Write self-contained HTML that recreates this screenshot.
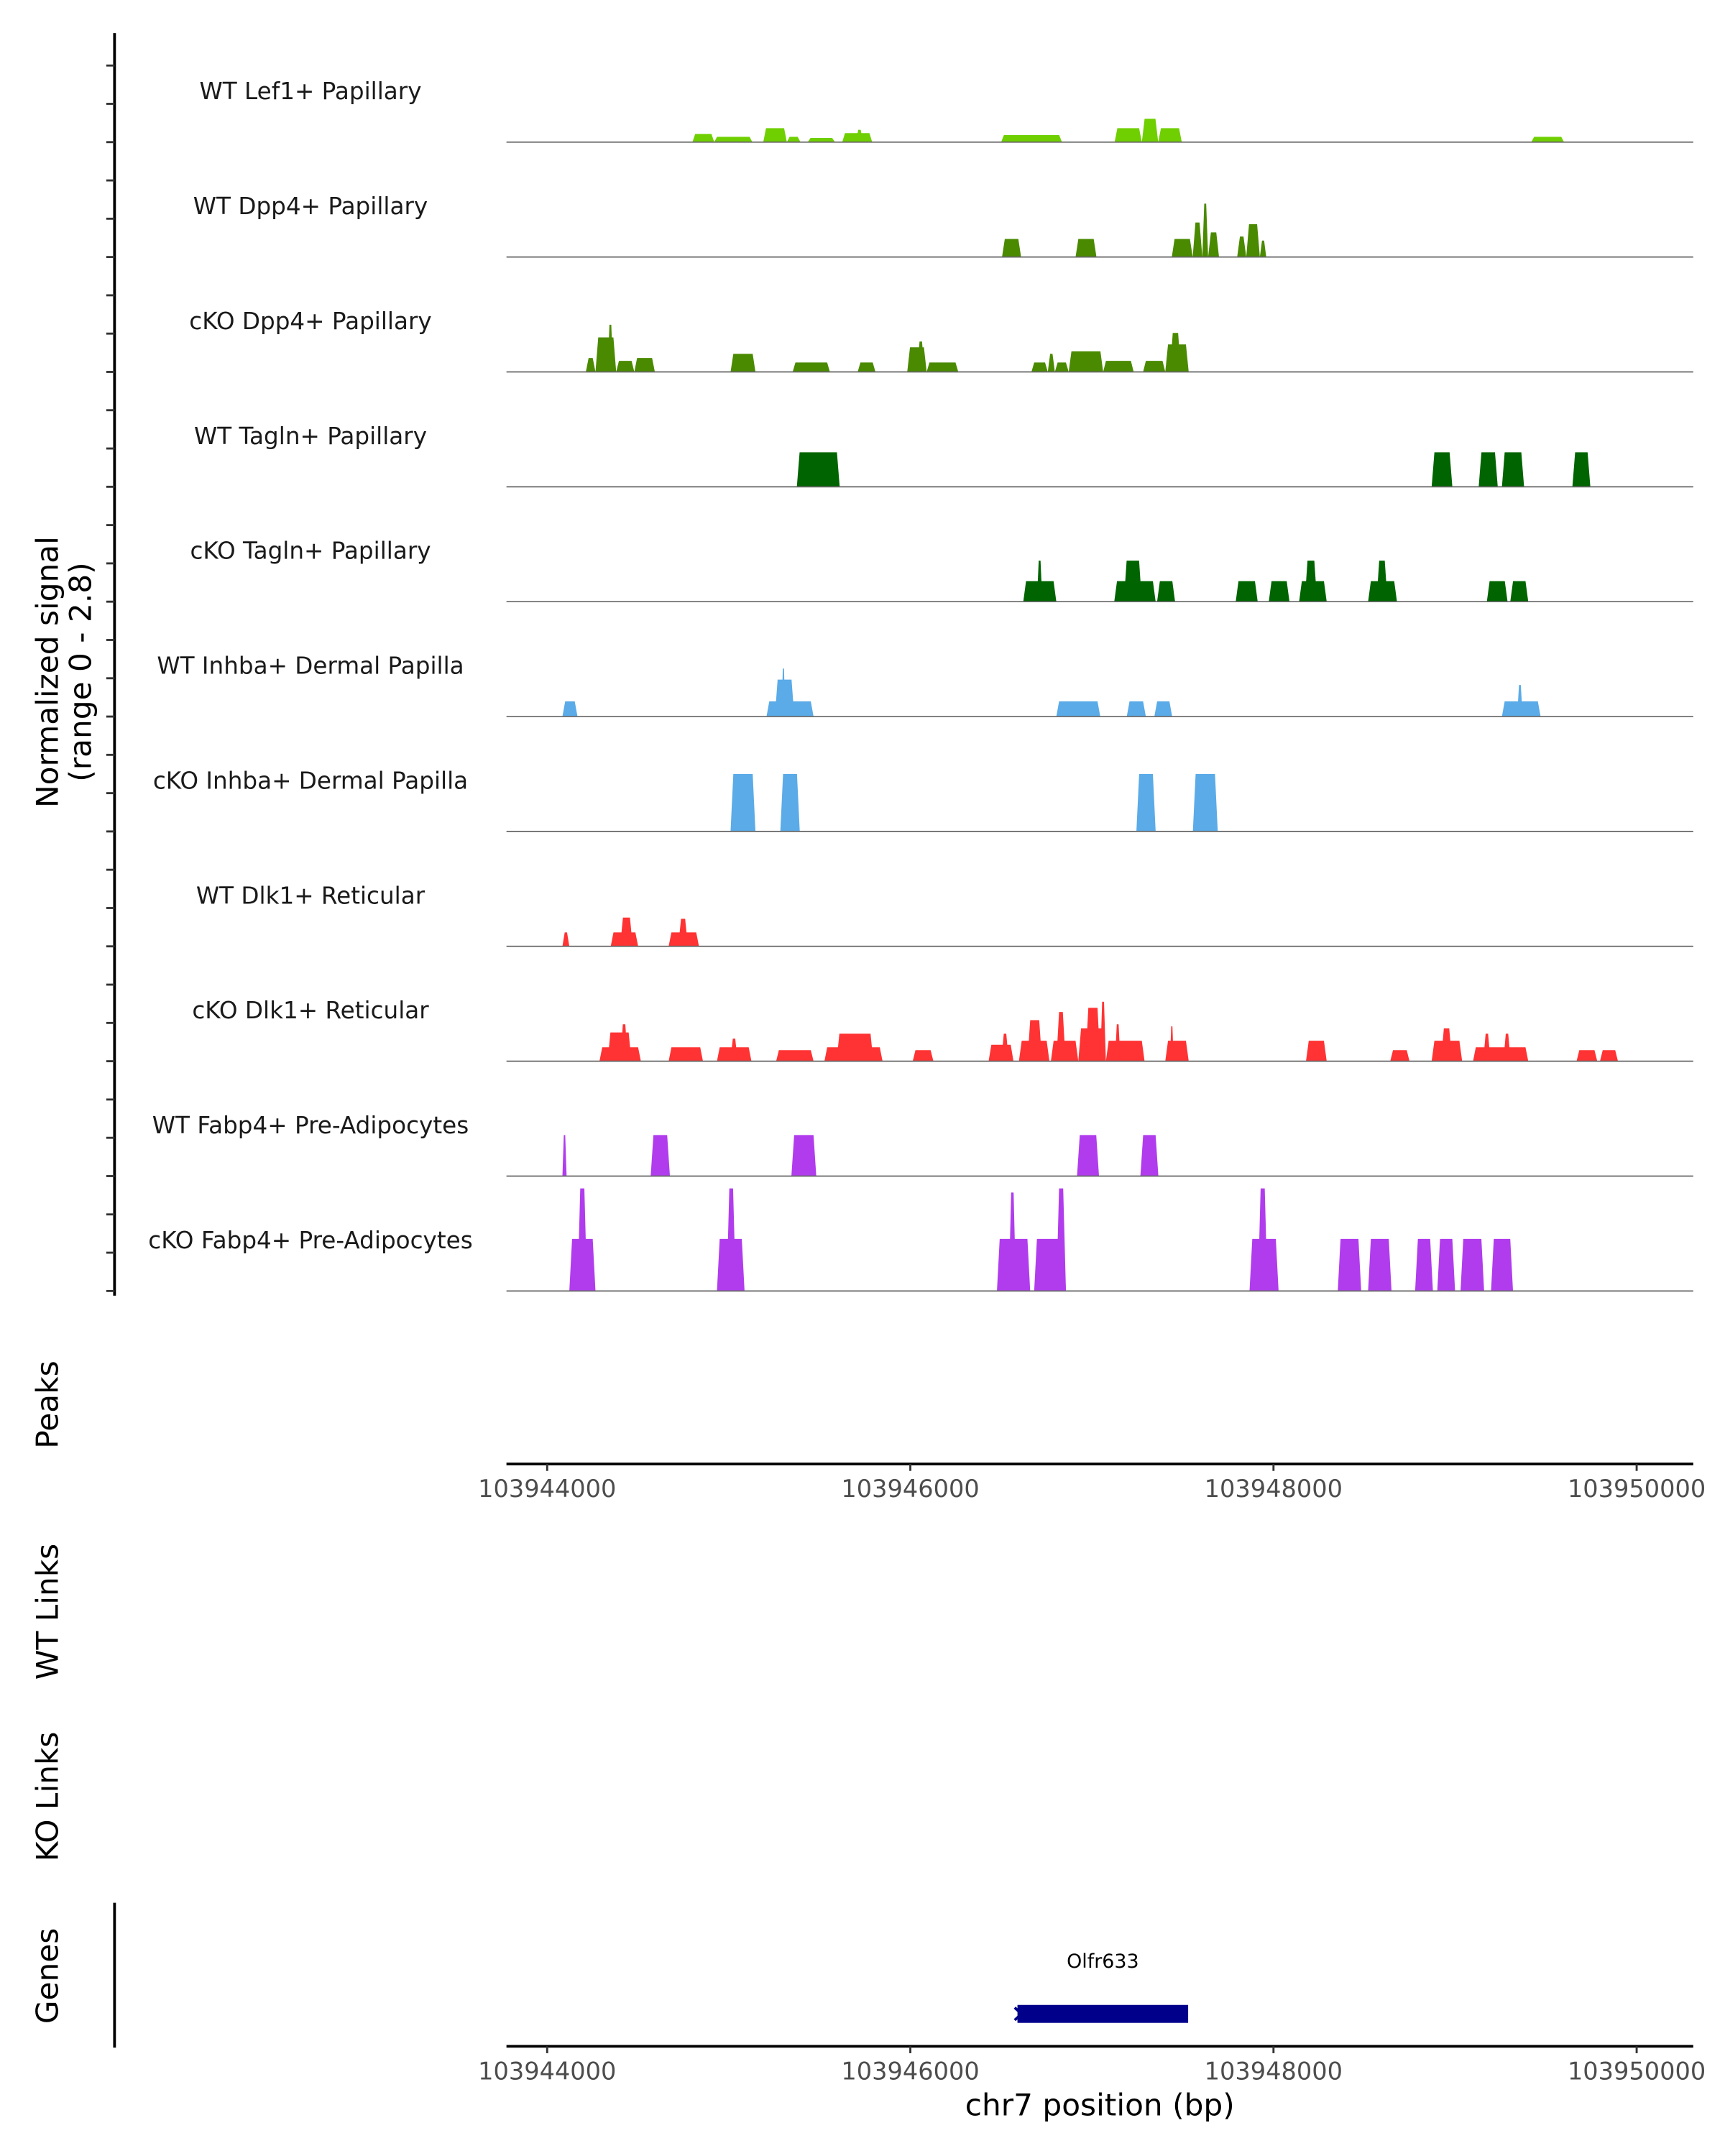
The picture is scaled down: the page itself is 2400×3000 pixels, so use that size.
<!DOCTYPE html>
<html><head><meta charset="utf-8"><style>
html,body{margin:0;padding:0;background:#fff;}
svg{display:block;font-family:"DejaVu Sans","Liberation Sans",sans-serif;}
</style></head><body>
<svg id="chart" width="2400" height="3000" viewBox="0 0 1250 1562.5" xmlns="http://www.w3.org/2000/svg">
<g id="tracks"></g>
<g id="axes"></g>
</svg>
<script>
const regionStart = 103944000;
const trackNames = ["WT Lef1+ Papillary","WT Dpp4+ Papillary","cKO Dpp4+ Papillary","WT Tagln+ Papillary","cKO Tagln+ Papillary","WT Inhba+ Dermal Papilla","cKO Inhba+ Dermal Papilla","WT Dlk1+ Reticular","cKO Dlk1+ Reticular","WT Fabp4+ Pre-Adipocytes","cKO Fabp4+ Pre-Adipocytes"];
const trackColors = ["#6fcf00","#4a8a00","#4a8a00","#006400","#006400","#5aabe8","#5aabe8","#ff3333","#ff3333","#b13ced","#b13ced"];
// segments: [startOffsetBp, endOffsetBp, normalizedSignal]
const seg0 = [[800,920,0.2],[920,1130,0.13],[1190,1320,0.34],[1320,1395,0.13],[1435,1585,0.1],[1625,1790,0.22],[1700,1740,0.3],[2500,2835,0.17],[3125,3275,0.34],[3275,3365,0.57],[3365,3495,0.34],[5420,5600,0.13]];
const seg1 = [[2505,2610,0.44],[2910,3025,0.44],[3440,3555,0.44],[3555,3608,0.84],[3608,3640,1.3],[3640,3700,0.6],[3800,3850,0.5],[3850,3925,0.8],[3925,3960,0.4]];
const seg2 = [[213,266,0.34],[266,380,0.84],[333,363,1.15],[380,480,0.27],[480,593,0.34],[1010,1147,0.44],[1352,1557,0.23],[1710,1808,0.23],[1983,2090,0.6],[2037,2078,0.74],[2090,2264,0.23],[2667,2757,0.23],[2757,2796,0.44],[2796,2872,0.23],[2872,3062,0.5],[3062,3230,0.27],[3282,3404,0.27],[3404,3533,0.67],[3430,3490,0.95]];
const seg3 = [[1375,1611,0.84],[4871,4985,0.84],[5130,5235,0.84],[5258,5380,0.84],[5646,5745,0.84]];
const seg4 = [[2622,2804,0.5],[2697,2727,1.0],[3123,3351,0.5],[3176,3275,1.0],[3359,3458,0.5],[3792,3913,0.5],[3974,4088,0.5],[4141,4293,0.5],[4172,4240,1.0],[4521,4680,0.5],[4567,4628,1.0],[5175,5289,0.5],[5304,5403,0.5]];
const seg5 = [[84,167,0.37],[1208,1467,0.37],[1254,1361,0.9],[1291,1311,1.17],[2804,3046,0.37],[3192,3297,0.37],[3344,3442,0.37],[5258,5471,0.37],[5342,5372,0.77]];
const seg6 = [[1010,1147,1.4],[1284,1391,1.4],[3245,3351,1.4],[3556,3693,1.4]];
const seg7 = [[84,122,0.34],[350,501,0.34],[402,471,0.7],[669,836,0.34],[722,775,0.67]];
const seg8 = [[288,516,0.34],[333,464,0.7],[403,444,0.9],[669,858,0.34],[935,1125,0.34],[1009,1049,0.55],[1261,1467,0.27],[1527,1847,0.34],[1594,1796,0.67],[2013,2127,0.27],[2431,2568,0.4],[2501,2542,0.67],[2598,2766,0.5],[2645,2725,1.0],[2774,2925,0.5],[2804,2855,1.2],[2925,3077,0.8],[2965,3046,1.3],[3046,3077,1.45],[3077,3290,0.5],[3127,3157,0.9],[3404,3533,0.5],[3430,3450,0.85],[4179,4293,0.5],[4643,4749,0.27],[4871,5039,0.5],[4923,4983,0.8],[5099,5403,0.34],[5155,5195,0.67],[5266,5306,0.67],[5669,5783,0.27],[5798,5897,0.27]];
const seg9 = [[84,107,1.0],[570,676,1.0],[1345,1482,1.0],[2918,3039,1.0],[3267,3366,1.0]];
const seg10 = [[122,266,1.27],[167,220,2.5],[935,1087,1.27],[988,1039,2.5],[2477,2660,1.27],[2542,2582,2.4],[2682,2857,1.27],[2804,2857,2.5],[3868,4028,1.27],[3914,3967,2.5],[4354,4483,1.27],[4521,4650,1.27],[4780,4878,1.27],[4902,5000,1.27],[5030,5160,1.27],[5198,5319,1.27]];
const segments = [seg0,seg1,seg2,seg3,seg4,seg5,seg6,seg7,seg8,seg9,seg10];
const xTicks = [103944000,103946000,103948000,103950000];
const geneName = "Olfr633";
const geneStart = 103946590, geneEnd = 103947530;

const NS="http://www.w3.org/2000/svg";
const PX0=367, PX1=1227;
function xScale(bp){return 396.5+(bp-103944000)*0.13158;}
const top0=19.74, trackH=83.26, unitPx=trackH/2.8;
function baseY(i){return top0+trackH*(i+1);}
function mk(tag,attrs,parent,text){const e=document.createElementNS(NS,tag);for(const k in attrs)e.setAttribute(k,attrs[k]);if(text!==undefined)e.textContent=text;parent.appendChild(e);return e;}
const T=document.getElementById('tracks'), A=document.getElementById('axes');

trackNames.forEach((name,i)=>{
  const g=mk('g',{},T);
  
  
  const b=baseY(i);
  segments[i].forEach(s=>{
    const x0=xScale(regionStart+s[0]), x1=xScale(regionStart+s[1]), y=b-s[2]*unitPx, r=Math.min(2,(x1-x0)/3);
    const p=mk('polygon',{points:`${x0},${b} ${x0+r},${y} ${x1-r},${y} ${x1},${b}`,fill:trackColors[i]},g);
    
    
  });
  const bl=mk('line',{x1:PX0,x2:PX1,y1:b,y2:b,stroke:'#666','stroke-width':0.9},g);
  
  
  const lb=mk('text',{x:225,y:b-31,'text-anchor':'middle','font-size':17,fill:'#1a1a1a'},g,name);
  
  
});

const ax=mk('line',{x1:83,x2:83,y1:24,y2:939,stroke:'#000','stroke-width':2},A);


for(let i=0;i<11;i++){for(let k=0;k<3;k++){const y=baseY(i)-k*trackH/3;
  const t=mk('line',{x1:77,x2:83,y1:y,y2:y,stroke:'#333','stroke-width':1.5},A);
  
  }}
function ylab(txt,x,y,name,size){const t=mk('text',{x:0,y:0,transform:`translate(${x},${y}) rotate(-90)`,'text-anchor':'middle','font-size':size||22,fill:'#000'},A,txt);
  
  return t;}
ylab('Normalized signal',42,487,'y-axis-title');
ylab('(range 0 - 2.8)',66,487,'y-axis-subtitle');
ylab('Peaks',42,1018,'peaks-label');
ylab('WT Links',42,1168,'wt-links-label');
ylab('KO Links',42,1302,'ko-links-label');
ylab('Genes',42,1432,'genes-label');

function xAxis(y,name){
  const l=mk('line',{x1:PX0,x2:PX1,y1:y,y2:y,stroke:'#000','stroke-width':2},A);
  
  
  xTicks.forEach(v=>{const x=xScale(v);
    const t=mk('line',{x1:x,x2:x,y1:y,y2:y+5,stroke:'#333','stroke-width':1.5},A);
    
    
    const tl=mk('text',{x:x,y:y+24,'text-anchor':'middle','font-size':17.5,fill:'#4d4d4d'},A,String(v));
    
    });
}
xAxis(1061,'peaks-x-axis');
xAxis(1483,'genes-x-axis');
const gl=mk('line',{x1:83,x2:83,y1:1379,y2:1484,stroke:'#000','stroke-width':2},A);


const gx0=xScale(geneStart), gx1=xScale(geneEnd);
const gb=mk('rect',{x:gx0,y:1453,width:gx1-gx0,height:13,fill:'#00008b'},A);


const ga=mk('path',{d:`M${gx0-2},${1455} L${gx0+3},${1459.5} L${gx0-2},${1464}`,stroke:'#00008b','stroke-width':2,fill:'none'},A);


const gt=mk('text',{x:(gx0+gx1)/2,y:1426,'text-anchor':'middle','font-size':14,fill:'#000'},A,geneName);


const xt=mk('text',{x:797,y:1533,'text-anchor':'middle','font-size':22,fill:'#000'},A,'chr7 position (bp)');


</script>
</body></html>
